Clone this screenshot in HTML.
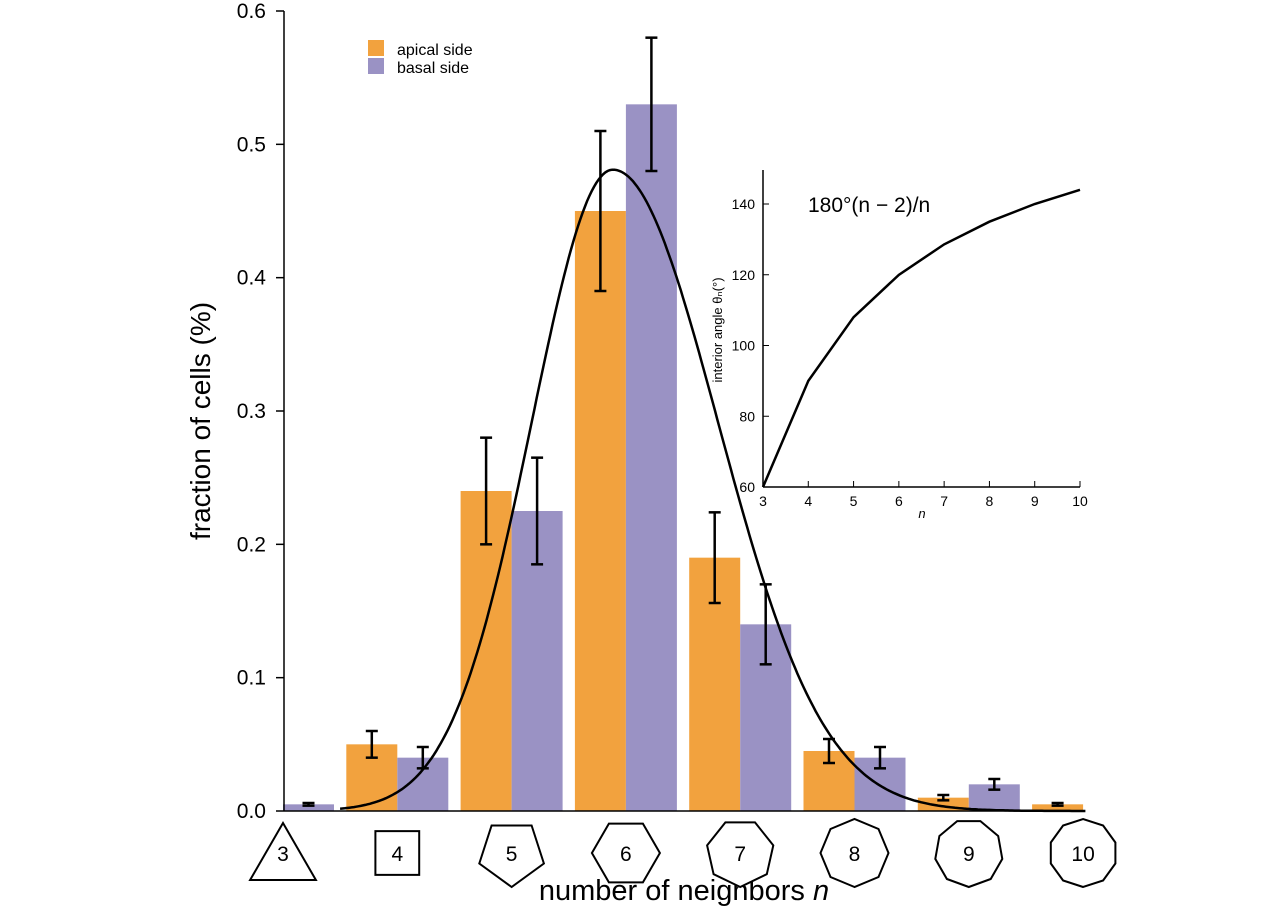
<!DOCTYPE html>
<html><head><meta charset="utf-8"><style>
body{margin:0;background:#fff;}
svg{display:block;font-family:"Liberation Sans",sans-serif;}
</style></head><body>
<svg id="c" width="1270" height="908"></svg>
<script>
const categories=[3,4,5,6,7,8,9,10];
const apical=[0,0.05,0.24,0.45,0.19,0.045,0.01,0.005];
const apicalLo=[0,0.04,0.2,0.39,0.156,0.036,0.008,0.004];
const apicalHi=[0,0.06,0.28,0.51,0.224,0.054,0.012,0.006];
const basal=[0.005,0.04,0.225,0.53,0.14,0.04,0.02,0];
const basalLo=[0.004,0.032,0.185,0.48,0.11,0.032,0.016,0];
const basalHi=[0.006,0.048,0.265,0.58,0.17,0.048,0.024,0];
const yTicks=[0,0.1,0.2,0.3,0.4,0.5,0.6];
const yTickLabels=["0.0","0.1","0.2","0.3","0.4","0.5","0.6"];
const fitPeak=0.481, fitMean=5.886, fitSigmaLeft=0.71, fitSigmaRight=0.92;
const insetN=[3,4,5,6,7,8,9,10];
const insetAngle=[60,90,108,120,128.57,135,140,144];
const insetYTicks=[60,80,100,120,140];

const NS="http://www.w3.org/2000/svg";
const svg=document.getElementById('c');
function mk(tag,attrs,parent,text){const e=document.createElementNS(NS,tag);for(const k in attrs)e.setAttribute(k,attrs[k]);if(text!==undefined)e.textContent=text;(parent||svg).appendChild(e);return e;}
const X=n=>283+(n-3)*114.3;
const Y=v=>811-v*(800/0.6);
const BW=51;

categories.forEach((n,i)=>{
  if(apical[i]>0){const r=mk('rect',{x:X(n)-BW,y:Y(apical[i]),width:BW,height:811-Y(apical[i]),fill:'#f2a23e'});
  
  }
  if(basal[i]>0){const r=mk('rect',{x:X(n),y:Y(basal[i]),width:BW,height:811-Y(basal[i]),fill:'#9a92c4'});
  
  }
});
function err(cx,lo,hi,name){if(hi<=0)return;const g=mk('g',{stroke:'#000','stroke-width':2.5});


mk('line',{x1:cx,x2:cx,y1:Y(lo),y2:Y(hi)},g);mk('line',{x1:cx-6,x2:cx+6,y1:Y(lo),y2:Y(lo)},g);mk('line',{x1:cx-6,x2:cx+6,y1:Y(hi),y2:Y(hi)},g);}
categories.forEach((n,i)=>{err(X(n)-BW/2,apicalLo[i],apicalHi[i],'apical-error-'+n);err(X(n)+BW/2,basalLo[i],basalHi[i],'basal-error-'+n);});
let d='';for(let n=3.5;n<=10.02;n+=0.02){const s=n<fitMean?fitSigmaLeft:fitSigmaRight;const v=fitPeak*Math.exp(-((n-fitMean)**2)/(2*s*s));d+=(d?'L':'M')+X(n).toFixed(1)+','+Y(v).toFixed(1);}
const fc=mk('path',{d:d,fill:'none',stroke:'#000','stroke-width':2.5});


const ya=mk('line',{x1:284,x2:284,y1:11,y2:811,stroke:'#000','stroke-width':1.5});


const xa=mk('line',{x1:284,x2:1085,y1:811,y2:811,stroke:'#000','stroke-width':1.5});


yTicks.forEach((t,i)=>{mk('line',{x1:276,x2:284,y1:Y(t),y2:Y(t),stroke:'#000','stroke-width':1.5});
const tl=mk('text',{x:266,y:Y(t)+7,'text-anchor':'end','font-size':21},svg,yTickLabels[i]);

});
const yt=mk('text',{transform:'translate(210,421) rotate(-90)','text-anchor':'middle','font-size':28},svg,'fraction of cells (%)');


const xt=mk('text',{x:684,y:900,'text-anchor':'middle','font-size':29},svg,'number of neighbors ');


mk('tspan',{'font-style':'italic'},xt,'n');
categories.forEach(n=>{const cx=X(n),cy=853,r=n===3?38:n===4?31:34;let rot;
 if(n===3)rot=-Math.PI/2;else if(n===4)rot=Math.PI/4;else if(n===5)rot=Math.PI/2;else if(n===6)rot=0;else rot=Math.PI/2;
 let cyy=n===3?cy+8:cy;const pts=[];for(let k=0;k<n;k++){const a=rot+2*Math.PI*k/n;pts.push((cx+r*Math.cos(a)).toFixed(1)+','+(cyy+r*Math.sin(a)).toFixed(1));}
 const g=mk('g',{});
 
 
 mk('polygon',{points:pts.join(' '),fill:'#fff',stroke:'#000','stroke-width':2},g);
 mk('text',{x:cx,y:cy+8,'text-anchor':'middle','font-size':21},g,String(n));});
const lg=mk('g',{});


mk('rect',{x:368,y:40,width:16,height:16,fill:'#f2a23e'},lg);
mk('text',{x:397,y:55,'font-size':16},lg,'apical side');
mk('rect',{x:368,y:58,width:16,height:16,fill:'#9a92c4'},lg);
mk('text',{x:397,y:73,'font-size':16},lg,'basal side');
const IX=n=>763+(n-3)*(317/7);
const IY=v=>487-(v-60)*(283/80);
const ig=mk('g',{});


mk('line',{x1:763,x2:763,y1:170,y2:487,stroke:'#000','stroke-width':1.5},ig);
mk('line',{x1:763,x2:1080,y1:487,y2:487,stroke:'#000','stroke-width':1.5},ig);
insetYTicks.forEach(t=>{mk('line',{x1:763,x2:769,y1:IY(t),y2:IY(t),stroke:'#000'},ig);mk('text',{x:755,y:IY(t)+5,'text-anchor':'end','font-size':14},ig,String(t));});
insetN.forEach(n=>{mk('line',{x1:IX(n),x2:IX(n),y1:487,y2:481,stroke:'#000'},ig);mk('text',{x:IX(n),y:506,'text-anchor':'middle','font-size':14},ig,String(n));});
mk('text',{x:922,y:518,'text-anchor':'middle','font-size':13,'font-style':'italic'},ig,'n');
mk('text',{transform:'translate(722,330) rotate(-90)','text-anchor':'middle','font-size':13},ig,'interior angle θ\u2099(°)');
mk('text',{x:808,y:212,'font-size':21},ig,'180°(n − 2)/n');
let d2='';insetN.forEach((n,i)=>{d2+=(i?'L':'M')+IX(n).toFixed(1)+','+IY(insetAngle[i]).toFixed(1);});
const il=mk('path',{d:d2,fill:'none',stroke:'#000','stroke-width':2.5},ig);


</script>
</body></html>
